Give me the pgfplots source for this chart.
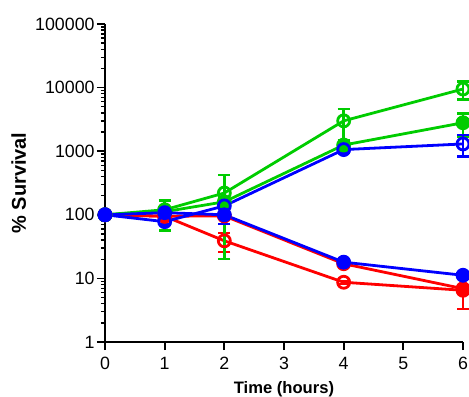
\documentclass[border=0pt]{standalone}
\usepackage{pgfplots}
\pgfplotsset{compat=1.18}
\usepackage{pgfplotstable}
\usepackage{fontspec}
\setmainfont{Liberation Sans}
\definecolor{mygreen}{RGB}{0,204,0}
\definecolor{myblue}{RGB}{0,0,255}
\definecolor{myred}{RGB}{255,0,0}

\pgfplotstableread{
x y ep em
0 100 0 0
1 120 12 12
2 220 200 200
4 3000 1600 1600
6 9500 3000 3000
}\greenopen
\pgfplotstableread{
x y ep em
0 100 0 0
1 112 55 55
2 160 20 20
4 1250 250 250
6 2800 1100 1100
}\greenfilled
\pgfplotstableread{
x y ep em
0 100 0 0
1 78 8 8
2 138 15 15
4 1060 100 100
6 1300 480 480
}\blueopen
\pgfplotstableread{
x y ep em
0 100 0 0
1 108 10 10
2 100 28 28
4 18 1.5 1.5
6 11.2 0.8 0.8
}\bluefilled
\pgfplotstableread{
x y ep em
0 100 0 0
1 95 8 8
2 39 13 13
4 8.7 0.5 0.5
6 6.5 3.2 3.2
}\redopen
\pgfplotstableread{
x y ep em
0 100 0 0
1 95 8 8
2 96 8 8
4 17 1.5 1.5
6 6.9 1.0 1.0
}\redfilled

\pgfplotsset{
  eb/.style={
    line width=1.4pt, mark size=3pt,
    error bars/y dir=both, error bars/y explicit,
    error bars/error bar style={line width=1.2pt},
    error bars/error mark options={rotate=90, mark size=3pt, line width=1.2pt},
  },
}

\begin{document}
\begin{tikzpicture}
\begin{axis}[
  scale only axis,
  width=179pt, height=159pt,
  ymode=log,
  xmin=0, xmax=6, ymin=1, ymax=100000,
  axis x line=bottom, axis y line=left,
  axis line style={-, line width=1pt},
  xtick={0,1,2,3,4,5,6},
  ytick={1,10,100,1000,10000,100000},
  yticklabels={1,10,100,1000,10000,100000},
  tick align=outside,
  major tick length=4pt,
  minor tick length=2pt,
  every tick/.style={black, line width=0.9pt},
  minor tick style={line width=0.7pt},
  tick label style={font=\fontsize{8.9}{10}\selectfont},
  yticklabel style={inner xsep=1pt},
  xticklabel style={inner xsep=0.5pt},
  /pgf/number format/assume math mode=true,
  xlabel={\textbf{Time (hours)}},
  ylabel={\textbf{\% Survival}},
  xlabel style={font=\fontsize{8.3}{10}\selectfont, inner ysep=0pt, yshift=-2.4pt},
  ylabel style={font=\fontsize{10}{12}\selectfont, yshift=0pt},
  clip=false,
]
\addplot[eb, myred, mark=*, mark options={solid, fill=myred}] table[x=x,y=y,y error plus=ep,y error minus=em] {\redfilled};
\addplot[eb, myred, mark=o, mark options={solid, fill=white}] table[x=x,y=y,y error plus=ep,y error minus=em] {\redopen};
\addplot[eb, mygreen, mark=*, mark options={solid, fill=mygreen}] table[x=x,y=y,y error plus=ep,y error minus=em] {\greenfilled};
\addplot[eb, mygreen, mark=o, mark options={solid, fill=white}] table[x=x,y=y,y error plus=ep,y error minus=em] {\greenopen};
\addplot[eb, myblue, mark=o, mark options={solid, fill=white}] table[x=x,y=y,y error plus=ep,y error minus=em] {\blueopen};
\addplot[eb, myblue, mark=*, mark options={solid, fill=myblue}] table[x=x,y=y,y error plus=ep,y error minus=em] {\bluefilled};
\end{axis}
\pgfresetboundingbox
\path ([xshift=-52.5pt,yshift=-27pt]current axis.south west) rectangle ([xshift=3pt,yshift=12pt]current axis.north east);
\end{tikzpicture}
\end{document}
